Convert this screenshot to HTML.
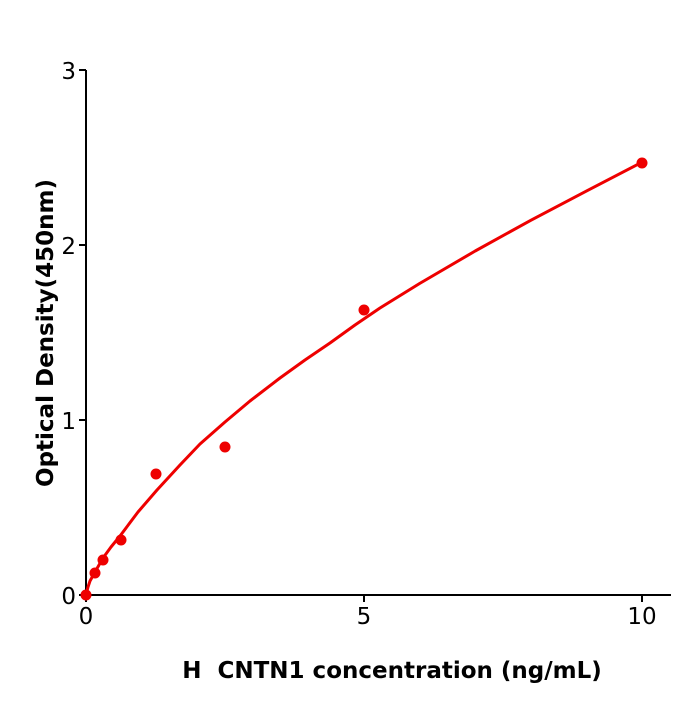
<!DOCTYPE html>
<html><head><style>body{margin:0;background:#fff}</style></head><body>
<svg width="700" height="700" xmlns="http://www.w3.org/2000/svg" font-family="DejaVu Sans, Liberation Sans, sans-serif">
<g stroke="#000" stroke-width="2" fill="none">
<line x1="86" y1="70" x2="86" y2="596"/>
<line x1="85" y1="595" x2="671" y2="595"/>
<line x1="79" y1="70" x2="86" y2="70"/>
<line x1="79" y1="245" x2="86" y2="245"/>
<line x1="79" y1="420" x2="86" y2="420"/>
<line x1="79" y1="595" x2="86" y2="595"/>
<line x1="86" y1="595" x2="86" y2="602"/>
<line x1="364" y1="595" x2="364" y2="602"/>
<line x1="642" y1="595" x2="642" y2="602"/>
</g>
<g font-size="23" fill="#000" text-anchor="end">
<text x="76" y="79">3</text><text x="76" y="254">2</text><text x="76" y="429">1</text><text x="76" y="604">0</text>
</g>
<g font-size="23" fill="#000" text-anchor="middle">
<text x="86" y="624">0</text><text x="364" y="624">5</text><text x="642" y="624">10</text>
</g>
<text x="392" y="678" font-size="23" font-weight="bold" text-anchor="middle">H&#160; CNTN1 concentration (ng/mL)</text>
<text transform="translate(53,333) rotate(-90)" font-size="23" font-weight="bold" text-anchor="middle">Optical Density(450nm)</text>
<polyline fill="none" stroke="#e00" stroke-width="3" stroke-linejoin="round" points="86,595 88,587 90,581 95,572 103,558 111,547 120,536 138,512 157,490 180,465 200,444 225,422 250,401 280,378 305,360 330,343 355,325 380,308 419.6,283.5 475.2,251 530.8,220.3 586.4,191.1 642,162.2"/>
<g fill="#e00">
<circle cx="86" cy="595" r="5.5"/><circle cx="95" cy="573" r="5.5"/><circle cx="103" cy="560" r="5.5"/><circle cx="121" cy="540" r="5.5"/><circle cx="156" cy="474" r="5.5"/><circle cx="225" cy="447" r="5.5"/><circle cx="364" cy="310" r="5.5"/><circle cx="642" cy="163" r="5.5"/>
</g>
</svg>
</body></html>
